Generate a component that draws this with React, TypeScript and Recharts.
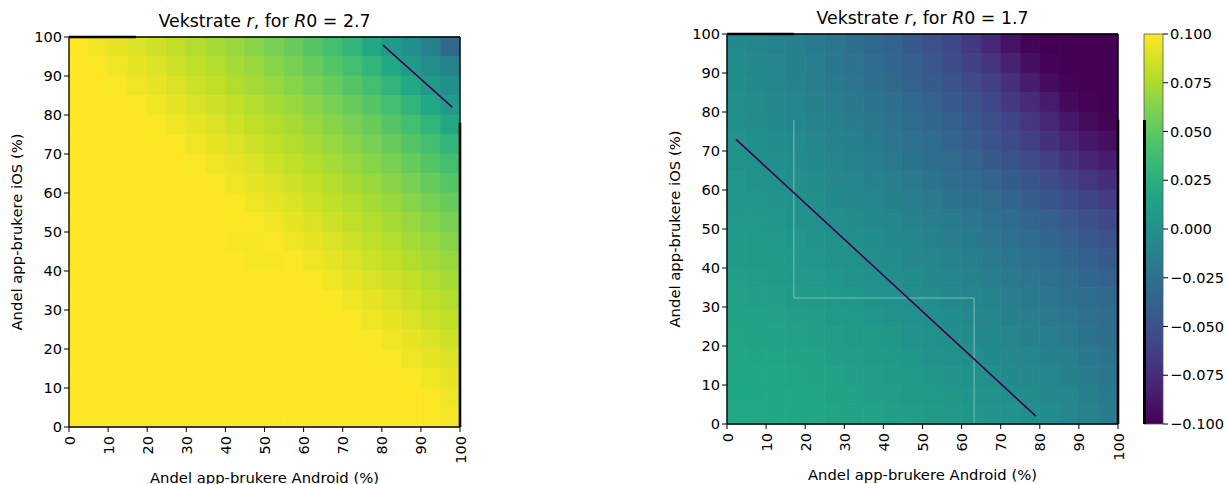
import React from 'react';
import { ComposedChart, XAxis, YAxis, ReferenceArea, ReferenceLine } from 'recharts';

// Cell centres (percent of app users), x = Android, y = iOS (rows listed top to bottom)
const androidPct = [2.5, 7.5, 12.5, 17.5, 22.5, 27.5, 32.5, 37.5, 42.5, 47.5, 52.5, 57.5, 62.5, 67.5, 72.5, 77.5, 82.5, 87.5, 92.5, 97.5];
const iosPct = [97.5, 92.5, 87.5, 82.5, 77.5, 72.5, 67.5, 62.5, 57.5, 52.5, 47.5, 42.5, 37.5, 32.5, 27.5, 22.5, 17.5, 12.5, 7.5, 2.5];
const cellStep = 5;
const axisTicks = [0, 10, 20, 30, 40, 50, 60, 70, 80, 90, 100];
const colorbarTicks = [-0.1, -0.075, -0.05, -0.025, 0, 0.025, 0.05, 0.075, 0.1];

// growth rate r in thousandths (per mille), R0 = 2.7
const rateR27 = [
  [100, 96, 93, 89, 85, 81, 77, 73, 69, 64, 59, 53, 46, 39, 30, 20, 9, -2, -12, -32],
  [100, 99, 96, 93, 89, 85, 81, 77, 73, 69, 64, 59, 53, 46, 39, 30, 20, 9, -2, -12],
  [100, 100, 99, 96, 93, 89, 85, 81, 77, 73, 69, 64, 59, 53, 46, 39, 30, 20, 9, -2],
  [100, 100, 100, 99, 96, 93, 89, 85, 81, 77, 73, 69, 64, 59, 53, 46, 39, 30, 20, 9],
  [100, 100, 100, 100, 99, 96, 93, 89, 85, 81, 77, 73, 69, 64, 59, 53, 46, 39, 30, 20],
  [100, 100, 100, 100, 100, 99, 96, 93, 89, 85, 81, 77, 73, 69, 64, 59, 53, 46, 39, 30],
  [100, 100, 100, 100, 100, 100, 99, 96, 93, 89, 85, 81, 77, 73, 69, 64, 59, 53, 46, 39],
  [100, 100, 100, 100, 100, 100, 100, 99, 96, 93, 89, 85, 81, 77, 73, 69, 64, 59, 53, 46],
  [100, 100, 100, 100, 100, 100, 100, 100, 99, 96, 93, 89, 85, 81, 77, 73, 69, 64, 59, 53],
  [100, 100, 100, 100, 100, 100, 100, 100, 100, 99, 96, 93, 89, 85, 81, 77, 73, 69, 64, 59],
  [100, 100, 100, 100, 100, 100, 100, 100, 98, 98, 99, 96, 93, 89, 85, 81, 77, 73, 69, 64],
  [100, 100, 100, 100, 100, 100, 100, 100, 100, 98, 98, 99, 96, 93, 89, 85, 81, 77, 73, 69],
  [100, 100, 100, 100, 100, 100, 100, 100, 100, 100, 100, 100, 99, 96, 93, 89, 85, 81, 77, 73],
  [100, 100, 100, 100, 100, 100, 100, 100, 100, 100, 100, 100, 100, 99, 96, 93, 89, 85, 81, 77],
  [100, 100, 100, 100, 100, 100, 100, 100, 100, 100, 100, 100, 100, 100, 99, 96, 93, 89, 85, 81],
  [100, 100, 100, 100, 100, 100, 100, 100, 100, 100, 100, 100, 100, 100, 100, 99, 96, 93, 89, 85],
  [100, 100, 100, 100, 100, 100, 100, 100, 100, 100, 100, 100, 100, 100, 100, 100, 99, 96, 93, 89],
  [100, 100, 100, 100, 100, 100, 100, 100, 100, 100, 100, 100, 100, 100, 100, 100, 100, 99, 96, 93],
  [100, 100, 100, 100, 100, 100, 100, 100, 100, 100, 100, 100, 100, 100, 100, 100, 100, 100, 99, 96],
  [100, 100, 100, 100, 100, 100, 100, 100, 100, 100, 100, 100, 100, 100, 100, 100, 100, 100, 100, 98],
];

// growth rate r in thousandths (per mille), R0 = 1.7
const rateR17 = [
  [-5, -8, -11, -14, -18, -22, -27, -32, -37, -43, -50, -58, -67, -78, -90, -98, -100, -100, -100, -100],
  [-4, -7, -10, -13, -16, -20, -25, -30, -35, -40, -46, -53, -61, -70, -81, -92, -99, -100, -100, -100],
  [-3, -6, -9, -12, -15, -18, -22, -27, -32, -37, -42, -48, -55, -63, -73, -84, -94, -99, -100, -100],
  [-2, -4, -7, -10, -13, -16, -20, -24, -28, -33, -38, -43, -50, -57, -66, -76, -86, -95, -99, -100],
  [-1, -3, -5, -8, -11, -14, -17, -21, -25, -29, -34, -39, -45, -52, -60, -69, -78, -87, -94, -98],
  [1, -1, -3, -5, -8, -11, -14, -18, -22, -26, -30, -35, -41, -48, -55, -63, -72, -80, -87, -92],
  [2, 0, -2, -4, -6, -9, -12, -15, -19, -23, -27, -31, -36, -42, -48, -55, -63, -71, -79, -85],
  [4, 2, 0, -2, -4, -7, -9, -12, -16, -19, -23, -27, -31, -36, -42, -48, -55, -62, -69, -75],
  [5, 4, 2, 0, -2, -5, -7, -10, -13, -16, -19, -23, -27, -31, -36, -41, -47, -53, -59, -65],
  [7, 6, 4, 2, 0, -2, -4, -7, -9, -12, -15, -18, -22, -26, -30, -35, -40, -45, -51, -56],
  [8, 7, 6, 4, 2, 0, -2, -4, -7, -9, -12, -15, -18, -22, -26, -30, -35, -40, -45, -50],
  [10, 9, 8, 6, 4, 2, 0, -2, -4, -7, -9, -12, -15, -18, -22, -26, -30, -34, -39, -44],
  [12, 11, 10, 8, 6, 4, 2, 0, -2, -4, -7, -9, -12, -15, -18, -22, -26, -30, -34, -38],
  [14, 13, 12, 10, 8, 6, 4, 2, 0, -2, -4, -7, -9, -12, -15, -18, -22, -26, -29, -33],
  [16, 15, 14, 12, 11, 9, 7, 4, 2, 0, -2, -4, -7, -10, -13, -16, -19, -22, -26, -30],
  [17, 16, 15, 14, 13, 11, 9, 7, 5, 2, 0, -2, -5, -7, -10, -13, -16, -19, -23, -27],
  [18, 17, 17, 16, 15, 13, 11, 9, 7, 5, 2, 0, -2, -5, -7, -10, -13, -16, -20, -24],
  [19, 18, 18, 17, 16, 15, 13, 11, 9, 7, 5, 3, 0, -2, -5, -7, -10, -13, -17, -21],
  [19, 19, 19, 18, 17, 16, 15, 13, 11, 9, 7, 5, 3, 1, -2, -4, -7, -10, -14, -18],
  [20, 20, 19, 19, 18, 17, 16, 15, 13, 11, 9, 7, 5, 3, 1, -1, -4, -8, -12, -17],
];

// lines drawn on top (percent coordinates)
const lineR27 = [{ x: 80.3, y: 97.9 }, { x: 98, y: 82 }];
const lineR17 = [{ x: 2.3, y: 73 }, { x: 79, y: 2 }];
const guideR17 = [
  [{ x: 17.1, y: 78 }, { x: 17.1, y: 32.3 }],
  [{ x: 17.1, y: 32.3 }, { x: 63.2, y: 32.3 }],
  [{ x: 63.2, y: 32.3 }, { x: 63.2, y: 0 }],
];
// heavier frame segments visible in the picture
const heavyFrame = [
  [{ x: 0, y: 100 }, { x: 17.1, y: 100 }],
  [{ x: 100, y: 0 }, { x: 100, y: 78 }],
];

const VIRIDIS = ['#440154', '#482475', '#414487', '#355f8d', '#2a788e', '#21918c', '#22a884', '#44bf70', '#7ad151', '#bddf26', '#fde725'];
const hexRgb = (h: string) => [parseInt(h.slice(1, 3), 16), parseInt(h.slice(3, 5), 16), parseInt(h.slice(5, 7), 16)];
const VIR_RGB = VIRIDIS.map(hexRgb);
function viridis(r: number) {
  let t = (r + 0.1) / 0.2;
  t = Math.max(0, Math.min(1, t));
  const p = t * 10;
  const i = Math.min(9, Math.floor(p));
  const f = p - i;
  const a = VIR_RGB[i];
  const b = VIR_RGB[i + 1];
  const c = a.map((v, k) => Math.round(v + (b[k] - v) * f));
  return `rgb(${c[0]},${c[1]},${c[2]})`;
}

const FONT = 'DejaVu Sans, sans-serif';
const TICK_FS = 14.6;

function toCells(grid: number[][]) {
  const out: { x: number; y: number; r: number }[] = [];
  grid.forEach((row, j) => row.forEach((v, i) => out.push({ x: androidPct[i], y: iosPct[j], r: v / 1000 })));
  return out;
}

const XTick = (props: any) => {
  const { x, y, payload } = props;
  return (
    <text x={x} y={y} transform={`rotate(-90 ${x} ${y})`} textAnchor="end" dominantBaseline="central" fontSize={TICK_FS} fill="#000" fontFamily={FONT}>
      {payload.value}
    </text>
  );
};

function Heatmap(props: { grid: number[][]; line: { x: number; y: number }[]; guides?: { x: number; y: number }[][]; width: number; margin: any }) {
  const cells = toCells(props.grid);
  return (
    <ComposedChart width={props.width} height={484} margin={props.margin} data={cells}>
      <XAxis type="number" dataKey="x" domain={[0, 100]} ticks={axisTicks} interval={0} allowDataOverflow height={40} tickSize={5} tickMargin={4} tick={<XTick />} stroke="#000" axisLine={{ stroke: '#000', strokeWidth: 1.3 }} tickLine={{ stroke: '#000' }} />
      <YAxis type="number" dataKey="y" domain={[0, 100]} ticks={axisTicks} interval={0} allowDataOverflow width={40} tickSize={5} tickMargin={2} tick={{ fill: '#000', fontSize: TICK_FS, fontFamily: FONT }} axisLine={{ stroke: '#000', strokeWidth: 1.3 }} tickLine={{ stroke: '#000' }} />
      {cells.map((c, k) => {
        const col = viridis(c.r);
        return (
          <ReferenceArea key={k} x1={c.x - cellStep / 2} x2={c.x + cellStep / 2} y1={c.y - cellStep / 2} y2={c.y + cellStep / 2} fill={col} fillOpacity={1} stroke={col} strokeWidth={0.8} />
        );
      })}
      {(props.guides || []).map((g, k) => (
        <ReferenceLine key={'g' + k} segment={g} stroke="#9fd0c8" strokeOpacity={0.7} strokeWidth={1} />
      ))}
      <ReferenceLine segment={props.line} stroke="#440154" strokeWidth={1.6} />
      <ReferenceLine y={100} stroke="#000" strokeWidth={1.3} />
      <ReferenceLine x={100} stroke="#000" strokeWidth={1.3} />
      {heavyFrame.map((s, k) => (
        <ReferenceLine key={'h' + k} segment={s} stroke="#000" strokeWidth={2.6} ifOverflow="visible" />
      ))}
    </ComposedChart>
  );
}

const cbFmt = (v: number) => (v < 0 ? '\u2212' : '') + Math.abs(v).toFixed(3);

function Colorbar() {
  const data = colorbarTicks.map((v) => ({ v }));
  return (
    <ComposedChart width={98} height={484} margin={{ top: 34, right: 5, bottom: 60, left: 14 }} data={data}>
      <XAxis hide type="number" domain={[0, 1]} />
      <YAxis orientation="right" type="number" dataKey="v" domain={[-0.1, 0.1]} ticks={colorbarTicks} interval={0} allowDataOverflow width={60} tickSize={5} tickMargin={2} tickFormatter={cbFmt} axisLine={false} tickLine={{ stroke: '#000' }} tick={{ fill: '#000', fontSize: TICK_FS, fontFamily: FONT, textAnchor: 'start' }} />
      <ReferenceArea y1={-0.1} y2={0.1} fill="url(#viridisGrad)" fillOpacity={1} stroke="#555" strokeWidth={0.8} />
    </ComposedChart>
  );
}

export default function App() {
  return (
    <div style={{ position: 'absolute', left: 0, top: 0, width: 1228, height: 484, background: '#fff', fontFamily: FONT, overflow: 'hidden' }}>
      <svg width={0} height={0} style={{ position: 'absolute' }}>
        <defs>
          <linearGradient id="viridisGrad" x1="0" y1="1" x2="0" y2="0">
            {VIRIDIS.map((c, i) => (
              <stop key={i} offset={i / 10} stopColor={c} />
            ))}
          </linearGradient>
        </defs>
      </svg>
      <div style={{ position: 'absolute', left: 0, top: 0 }}>
        <Heatmap grid={rateR27} line={lineR27} width={480} margin={{ top: 37, right: 20, bottom: 17, left: 29 }} />
      </div>
      <div style={{ position: 'absolute', left: 640, top: 0 }}>
        <Heatmap grid={rateR17} line={lineR17} guides={guideR17} width={500} margin={{ top: 34, right: 22, bottom: 20, left: 47 }} />
      </div>
      <div style={{ position: 'absolute', left: 1130, top: 0 }}>
        <Colorbar />
      </div>
      <div style={{ position: 'absolute', left: 1143, top: 120, width: 2.5, height: 304, background: '#000' }} />
      <svg width={1228} height={484} style={{ position: 'absolute', left: 0, top: 0, pointerEvents: 'none' }} fontFamily={FONT} fill="#000">
        <text x={264.5} y={26.5} fontSize={17.4} textAnchor="middle">
          Vekstrate <tspan fontStyle="italic">r</tspan>, for <tspan fontStyle="italic">R</tspan>0 = 2.7
        </text>
        <text x={922.5} y={23.5} fontSize={17.4} textAnchor="middle">
          Vekstrate <tspan fontStyle="italic">r</tspan>, for <tspan fontStyle="italic">R</tspan>0 = 1.7
        </text>
        <text x={264.5} y={482.5} fontSize={14.8} textAnchor="middle">Andel app-brukere Android (%)</text>
        <text x={922.5} y={479.5} fontSize={14.8} textAnchor="middle">Andel app-brukere Android (%)</text>
        <text x={22} y={232} fontSize={14.8} textAnchor="middle" transform="rotate(-90 22 232)">Andel app-brukere iOS (%)</text>
        <text x={680} y={229} fontSize={14.8} textAnchor="middle" transform="rotate(-90 680 229)">Andel app-brukere iOS (%)</text>
      </svg>
    </div>
  );
}
